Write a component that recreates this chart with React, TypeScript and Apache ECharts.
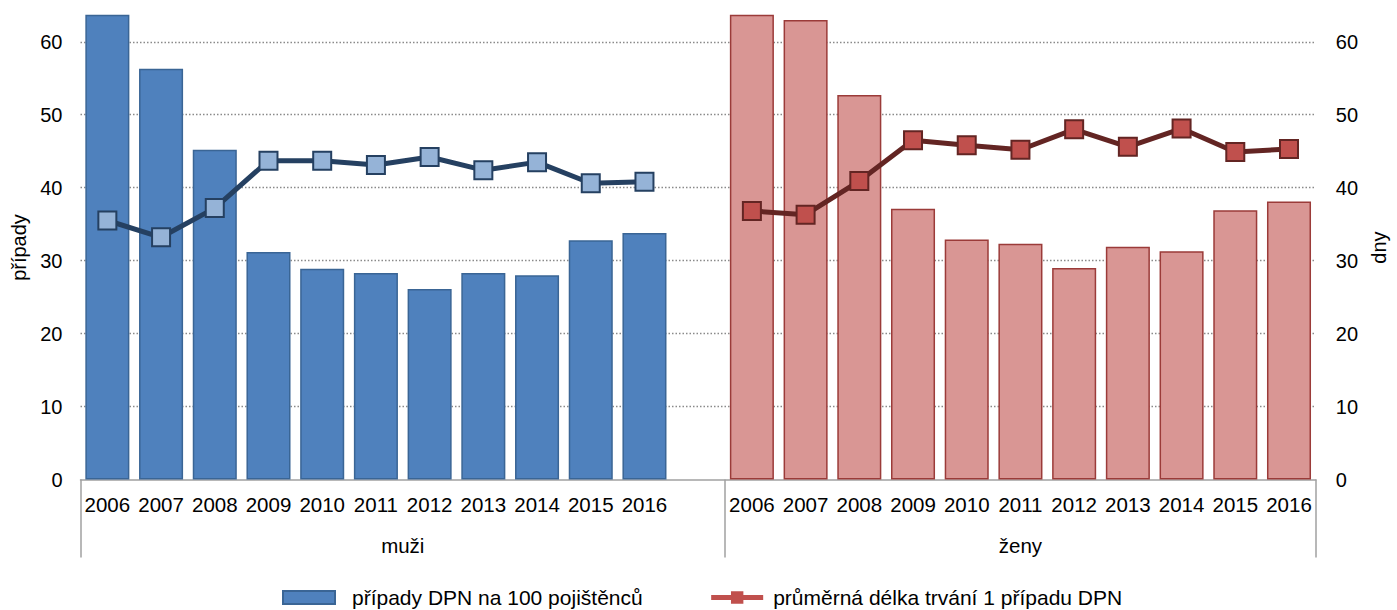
import React, { useEffect, useRef } from 'react';
import * as echarts from 'echarts';

const years = ['2006', '2007', '2008', '2009', '2010', '2011', '2012', '2013', '2014', '2015', '2016'];
const categories = [...years, '', ...years];
const casesMen = [66, 56.3, 45.2, 31.2, 28.9, 28.3, 26.1, 28.3, 28.0, 32.8, 33.8];
const casesWomen = [66, 63.0, 52.7, 37.1, 32.9, 32.3, 29.0, 31.9, 31.3, 36.9, 38.1];
const daysMen = [35.5, 33.2, 37.2, 43.7, 43.7, 43.1, 44.2, 42.4, 43.5, 40.6, 40.8];
const daysWomen = [36.8, 36.3, 40.9, 46.5, 45.8, 45.2, 48.0, 45.6, 48.1, 44.9, 45.3];
const groupMen = 'muži';
const groupWomen = 'ženy';
const nameCases = 'případy DPN na 100 pojištěnců';
const nameDays = 'průměrná délka trvání 1 případu DPN';
const leftAxisName = 'případy';
const rightAxisName = 'dny';

const FONT = '"Liberation Sans", Arial, sans-serif';

export default function App() {
  const ref = useRef<HTMLDivElement>(null);
  useEffect(() => {
    if (!ref.current) return;
    const chart = echarts.init(ref.current, undefined, { renderer: 'svg' });
    const gap = 1;
    const barData: any[] = [
      ...casesMen,
      null,
      ...casesWomen.map((v) => ({
        value: v,
        itemStyle: { color: '#D99694', borderColor: '#9B3B39' },
      })),
    ];
    const menLine: any[] = [...daysMen, ...new Array(gap + years.length).fill(null)];
    const womenLine: any[] = [...new Array(years.length + gap).fill(null), ...daysWomen];

    const yCommon: any = {
      type: 'value',
      min: 0,
      max: 63.6,
      interval: 10,
      axisLine: { show: false },
      axisTick: { show: false },
      nameLocation: 'middle',
      nameRotate: 90,
      nameTextStyle: { color: '#000', fontSize: 20, fontFamily: FONT },
    };

    chart.setOption({
      animation: false,
      textStyle: { fontFamily: FONT },
      grid: { left: 80.5, right: 75, top: 15.5, bottom: 130.5, containLabel: false },
      legend: {
        left: 277,
        top: 582,
        itemWidth: 52,
        itemHeight: 13,
        itemGap: 66,
        textStyle: { color: '#000', fontSize: 21, fontFamily: FONT },
        data: [
          { name: nameCases, icon: 'rect', textStyle: { padding: [0, 0, 0, 12] } },
          {
            name: nameDays,
            lineStyle: { color: '#C0504D', width: 5 },
            itemStyle: { color: '#C0504D', borderColor: '#C0504D' },
            textStyle: { padding: [0, 0, 0, 5] },
          },
        ],
      },
      xAxis: [
        {
          type: 'category',
          data: categories,
          boundaryGap: true,
          axisLine: { show: true, lineStyle: { color: '#A0A0A0', width: 1.5 } },
          axisTick: {
            show: true,
            interval: (i: number) => i === 0 || i === years.length + gap,
            length: 78,
            lineStyle: { color: '#A0A0A0', width: 1.5 },
          },
          axisLabel: { interval: 0, margin: 14, color: '#000', fontSize: 20.5, fontFamily: FONT },
          splitLine: { show: false },
        },
        {
          type: 'value',
          position: 'bottom',
          min: 0,
          max: categories.length,
          interval: 0.5,
          axisLine: { show: false },
          axisTick: { show: false },
          splitLine: { show: false },
          axisLabel: {
            margin: 55,
            color: '#000',
            fontSize: 20.5,
            fontFamily: FONT,
            formatter: (v: number) =>
              Math.abs(v - (years.length + gap) / 2) < 1e-6
                ? groupMen
                : Math.abs(v - (years.length + gap + years.length / 2)) < 1e-6
                ? groupWomen
                : '',
          },
        },
      ],
      yAxis: [
        {
          ...yCommon,
          position: 'left',
          name: leftAxisName,
          nameGap: 50,
          axisLabel: { color: '#000', fontSize: 20, fontFamily: FONT, margin: 18, showMaxLabel: false },
          splitLine: {
            show: true,
            showMinLine: false,
            showMaxLine: false,
            lineStyle: { color: '#8A8A8A', type: [1.5, 2], width: 1.3 },
          },
        },
        {
          ...yCommon,
          position: 'right',
          name: rightAxisName,
          nameGap: 53,
          axisLabel: { color: '#000', fontSize: 20, fontFamily: FONT, margin: 20, showMaxLabel: false },
          splitLine: { show: false },
        },
      ],
      series: [
        {
          name: nameCases,
          type: 'bar',
          xAxisIndex: 0,
          yAxisIndex: 0,
          data: barData,
          barCategoryGap: '18%',
          itemStyle: { color: '#4F81BD', borderColor: '#3A6595', borderWidth: 1.5 },
          clip: true,
          z: 2,
        },
        {
          name: nameDays,
          type: 'line',
          xAxisIndex: 0,
          yAxisIndex: 1,
          data: womenLine,
          connectNulls: false,
          symbol: 'rect',
          symbolSize: 18,
          lineStyle: { color: '#632523', width: 5 },
          itemStyle: { color: '#C0504D', borderColor: '#632523', borderWidth: 2 },
          z: 3,
        },
        {
          name: nameDays,
          type: 'line',
          xAxisIndex: 0,
          yAxisIndex: 1,
          data: menLine,
          connectNulls: false,
          symbol: 'rect',
          symbolSize: 18,
          lineStyle: { color: '#254061', width: 5 },
          itemStyle: { color: '#95B3D7', borderColor: '#254061', borderWidth: 2 },
          z: 3,
        },
      ],
    });
    return () => chart.dispose();
  }, []);
  return (
    <div
      ref={ref}
      style={{ position: 'fixed', left: 0, top: 0, width: '1397px', height: '610px', background: '#fff' }}
    />
  );
}
